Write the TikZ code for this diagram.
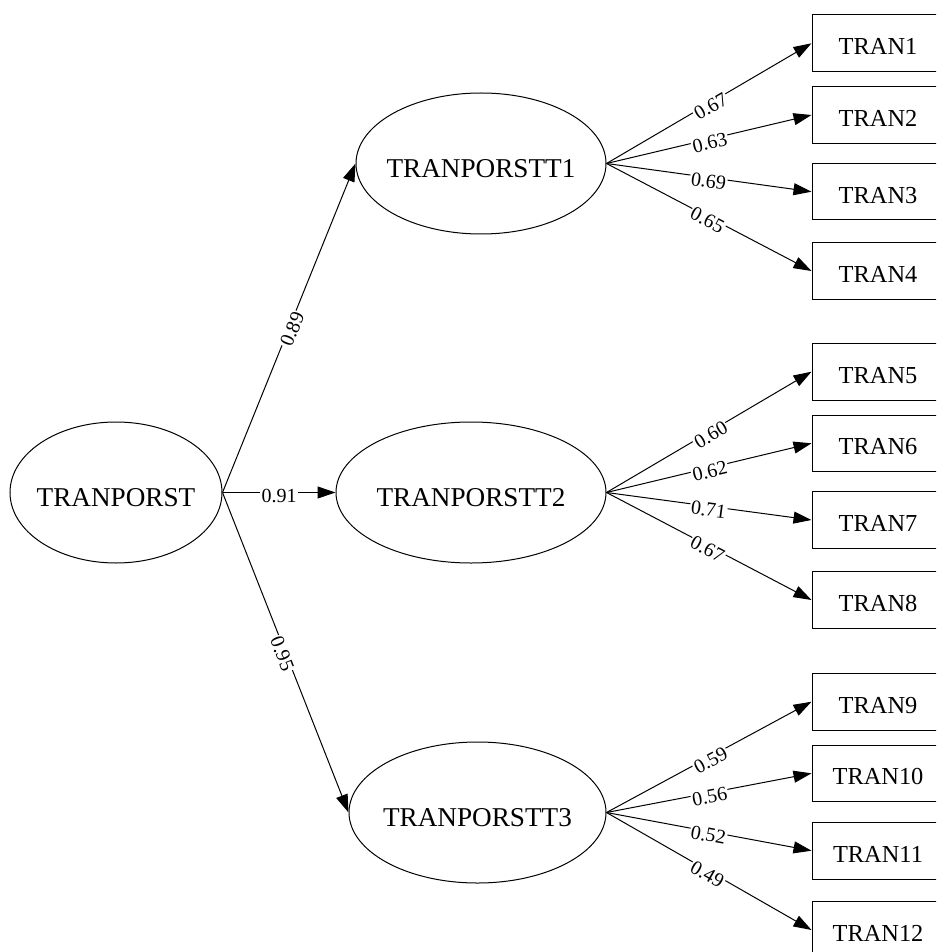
\documentclass[tikz,border=0pt]{standalone}
\usepackage{fontspec}
\setmainfont{Liberation Serif}
\usetikzlibrary{shapes.geometric,arrows.meta}

\begin{document}
\begin{tikzpicture}[x=0.5pt,y=-0.5pt,
  latent/.style={draw, ellipse, line width=0.5pt, inner sep=0pt, inner xsep=-8pt,
    font=\fontsize{13.6}{16}\selectfont, text height=13.6pt, text depth=0pt},
  manifest/.style={draw, rectangle, line width=0.5pt, minimum width=66pt, minimum height=28.3pt,
    inner sep=0pt, font=\fontsize{12.2}{14}\selectfont, text height=11.6pt, text depth=0pt},
  link/.style={-{Triangle[length=9pt,width=6pt]}, line width=0.5pt},
  coef/.style={sloped, fill=white, inner xsep=0.6pt, inner ysep=0.3pt,
    font=\fontsize{10}{12}\selectfont, text height=10pt, text depth=-1.2pt}
]
\useasboundingbox (0,0) rectangle (936,952);
\clip (0,0) rectangle (936,952);

% second-order factor and first-order factors
\node[latent, minimum width=106pt, minimum height=70.5pt] (F)  at (116,492.5)   {TRANPORST};
\node[latent, minimum width=125pt, minimum height=70.5pt] (T1) at (481,163.5)   {TRANPORSTT1};
\node[latent, minimum width=135pt, minimum height=70.5pt] (T2) at (471,492.5)   {TRANPORSTT2};
\node[latent, minimum width=128.5pt, minimum height=70.5pt] (T3) at (477.5,812.5) {TRANPORSTT3};

% indicators
\node[manifest] (X1)  at (878,43.3)  {TRAN1};
\node[manifest] (X2)  at (878,115)   {TRAN2};
\node[manifest] (X3)  at (878,191.7) {TRAN3};
\node[manifest] (X4)  at (878,271)   {TRAN4};
\node[manifest] (X5)  at (878,371.7) {TRAN5};
\node[manifest] (X6)  at (878,443.3) {TRAN6};
\node[manifest] (X7)  at (878,520)   {TRAN7};
\node[manifest] (X8)  at (878,600)   {TRAN8};
\node[manifest] (X9)  at (878,701.7) {TRAN9};
\node[manifest] (X10) at (878,773.3) {TRAN10};
\node[manifest] (X11) at (878,850.7) {TRAN11};
\node[manifest] (X12) at (878,930)   {TRAN12};

% second-order loadings
\draw[link] (F.east) -- node[coef] {0.89} (T1.west);
\draw[link] (F.east) -- node[coef] {0.91} (T2.west);
\draw[link] (F.east) -- node[coef] {0.95} (T3.west);

% first-order loadings
\draw[link] (T1.east) -- node[coef] {0.67} (X1.west);
\draw[link] (T1.east) -- node[coef] {0.63} (X2.west);
\draw[link] (T1.east) -- node[coef] {0.69} (X3.west);
\draw[link] (T1.east) -- node[coef] {0.65} (X4.west);

\draw[link] (T2.east) -- node[coef] {0.60} (X5.west);
\draw[link] (T2.east) -- node[coef] {0.62} (X6.west);
\draw[link] (T2.east) -- node[coef] {0.71} (X7.west);
\draw[link] (T2.east) -- node[coef] {0.67} (X8.west);

\draw[link] (T3.east) -- node[coef] {0.59} (X9.west);
\draw[link] (T3.east) -- node[coef] {0.56} (X10.west);
\draw[link] (T3.east) -- node[coef] {0.52} (X11.west);
\draw[link] (T3.east) -- node[coef] {0.49} (X12.west);
\end{tikzpicture}
\end{document}
